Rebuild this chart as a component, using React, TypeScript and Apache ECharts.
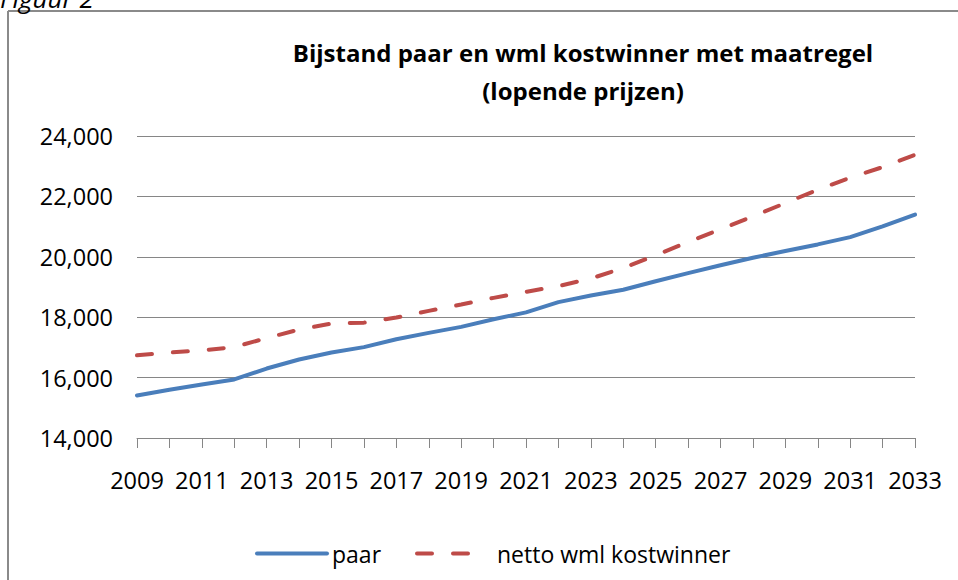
import React, { useEffect, useRef } from "react";
import * as echarts from "echarts";

const years = [
  "2009", "2010", "2011", "2012", "2013", "2014", "2015", "2016", "2017",
  "2018", "2019", "2020", "2021", "2022", "2023", "2024", "2025", "2026",
  "2027", "2028", "2029", "2030", "2031", "2032", "2033",
];
const paar = [
  15410, 15600, 15770, 15940, 16300, 16600, 16830, 17010, 17270, 17480,
  17680, 17930, 18160, 18500, 18720, 18910, 19190, 19460, 19720, 19970,
  20190, 20410, 20650, 21010, 21400,
];
const nettoWml = [
  16740, 16830, 16900, 17010, 17310, 17590, 17790, 17820, 17990, 18210,
  18420, 18640, 18840, 19030, 19280, 19630, 20050, 20490, 20910, 21340,
  21780, 22220, 22620, 22970, 23380,
];
const seriesNames = ["paar", "netto wml kostwinner"];
const titleText = "Bijstand paar en wml kostwinner met maatregel\n(lopende prijzen)";
const figureLabel = "Figuur 2";

const FONT = "'Open Sans', sans-serif";
const BLUE = "#4A7EBB";
const RED = "#BE4B48";
const GRID = "#868686";

export default function App() {
  const ref = useRef<HTMLDivElement>(null);
  useEffect(() => {
    if (!ref.current) return;
    const chart = echarts.init(ref.current, undefined, { renderer: "svg" });
    chart.setOption({
      animation: false,
      backgroundColor: "#ffffff",
      textStyle: { fontFamily: FONT },
      title: {
        text: titleText,
        left: 583,
        top: 33,
        textAlign: "center",
        padding: 0,
        textStyle: {
          fontFamily: FONT,
          fontSize: 24,
          fontWeight: "bold",
          color: "#000",
          lineHeight: 38,
        },
      },
      legend: [
        {
          data: [seriesNames[0]],
          left: 255,
          top: 542,
          itemWidth: 70,
          itemHeight: 14,
          itemGap: 0,
          padding: 0,
          itemStyle: { opacity: 0 },
          lineStyle: { width: 4, cap: "round", opacity: 1 },
          textStyle: { fontFamily: FONT, fontSize: 23, color: "#000" },
        },
        {
          data: [seriesNames[1]],
          left: 415,
          top: 542,
          itemWidth: 55,
          itemHeight: 14,
          itemGap: 0,
          padding: 0,
          itemStyle: { opacity: 0 },
          lineStyle: { width: 4, cap: "round", opacity: 1 },
          textStyle: {
            fontFamily: FONT,
            fontSize: 23,
            color: "#000",
            padding: [0, 0, 0, 20],
          },
        },
      ],
      grid: { left: 137, right: 43, top: 136, bottom: 142 },
      xAxis: {
        type: "category",
        data: years,
        boundaryGap: false,
        axisLine: { show: true, lineStyle: { color: GRID, width: 1 } },
        axisTick: {
          show: true,
          interval: 0,
          length: 10,
          lineStyle: { color: GRID, width: 1 },
        },
        axisLabel: {
          interval: 1,
          margin: 30,
          fontFamily: FONT,
          fontSize: 23.5,
          color: "#000",
        },
        splitLine: { show: false },
      },
      yAxis: {
        type: "value",
        min: 14000,
        max: 24000,
        interval: 2000,
        axisLine: { show: false },
        axisTick: { show: false },
        axisLabel: {
          margin: 24,
          fontFamily: FONT,
          fontSize: 23.5,
          color: "#000",
          formatter: (v: number) => v.toLocaleString("en-US"),
        },
        splitLine: { show: true, lineStyle: { color: GRID, width: 1 } },
      },
      series: [
        {
          name: seriesNames[0],
          type: "line",
          data: paar,
          symbol: "none",
          lineStyle: { color: BLUE, width: 4, cap: "round" },
          itemStyle: { color: BLUE },
        },
        {
          name: seriesNames[1],
          type: "line",
          data: nettoWml,
          symbol: "none",
          lineStyle: { color: RED, width: 4, type: [15, 21], cap: "round" },
          itemStyle: { color: RED },
        },
      ],
      graphic: [
        {
          type: "line",
          shape: { x1: 8, y1: 11, x2: 958, y2: 11 },
          style: { stroke: "#8a8a8a", lineWidth: 2 },
          silent: true,
        },
        {
          type: "line",
          shape: { x1: 8, y1: 11, x2: 8, y2: 580 },
          style: { stroke: "#8a8a8a", lineWidth: 2 },
          silent: true,
        },
        {
          type: "text",
          x: 0,
          y: -2,
          style: {
            text: figureLabel,
            fontFamily: FONT,
            fontSize: 26,
            fontStyle: "italic",
            fill: "#000",
            verticalAlign: "middle",
            align: "left",
          },
          silent: true,
        },
      ],
    });
    return () => chart.dispose();
  }, []);
  return (
    <div
      ref={ref}
      style={{ position: "fixed", left: 0, top: 0, width: 958, height: 580 }}
    />
  );
}
